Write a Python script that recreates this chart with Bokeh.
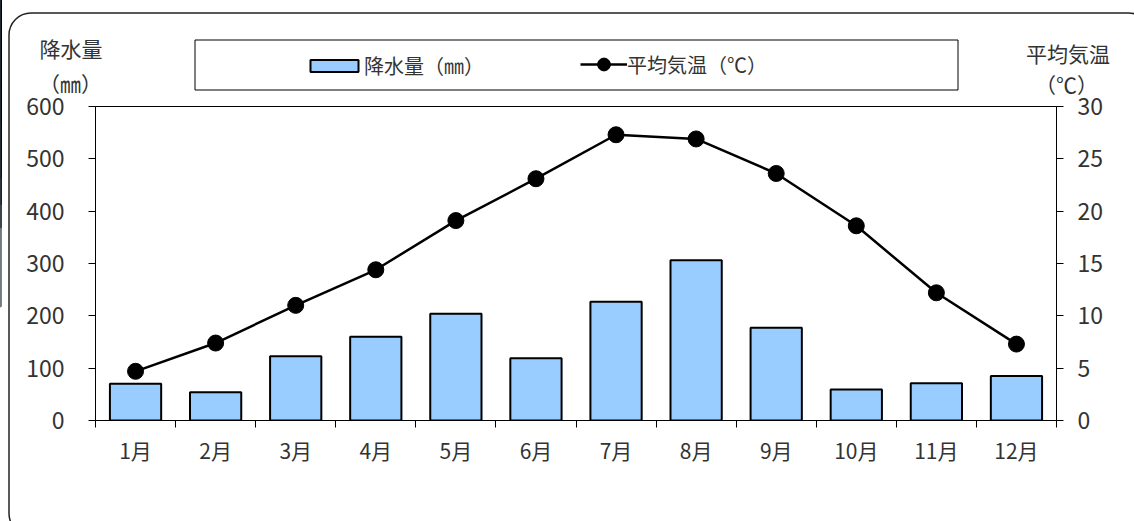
from bokeh.plotting import figure
from bokeh.layouts import column
from bokeh.models import (Range1d, LinearAxis, FixedTicker, Legend, LegendItem,
                          Label, BoxAnnotation, ColumnDataSource)
from bokeh.embed import file_html
from bokeh.resources import INLINE

# Monthly climate normals
months = list(range(1, 13))
month_labels = [f"{m}月" for m in months]
precip_mm = [70, 54, 123, 160, 204, 119, 227, 306, 177, 59, 71, 85]
temp_c = [4.7, 7.4, 11.0, 14.4, 19.1, 23.1, 27.3, 26.9, 23.6, 18.6, 12.2, 7.3]
precip_ticks = [0, 100, 200, 300, 400, 500, 600]
temp_ticks = [0, 5, 10, 15, 20, 25, 30]

FONT = "Noto Sans CJK JP"
NUM_FONT = "Liberation Sans Narrow, Noto Sans CJK JP"
TXT = "#333333"
BAR_FILL = "#99CCFF"
PAGE_W, PAGE_H = 1134, 521

src = ColumnDataSource(dict(month=months, precip=precip_mm, temp=temp_c))

# ---------------- chart ----------------
p = figure(width=PAGE_W, height=PAGE_H, output_backend="svg",
           toolbar_location=None, frame_align=False,
           x_range=Range1d(0.5, 12.5), y_range=Range1d(0, 600),
           min_border_left=95, min_border_right=PAGE_W - 1056,
           min_border_top=106, min_border_bottom=PAGE_H - 420,
           margin=(0, 0, -PAGE_H, 0))
p.extra_y_ranges = {"temp": Range1d(0, 30)}
p.xgrid.visible = False
p.ygrid.visible = False
p.outline_line_color = "black"
p.outline_line_width = 1
p.background_fill_color = "white"
p.border_fill_color = "white"

# month axis: labels under bars, tick marks between months
xa = p.xaxis[0]
xa.ticker = FixedTicker(ticks=months, minor_ticks=[m - 0.5 for m in months] + [12.5])
xa.major_label_overrides = {m: lab for m, lab in zip(months, month_labels)}
xa.major_tick_line_color = None
xa.major_tick_out = 0
xa.major_tick_in = 0
xa.minor_tick_out = 7
xa.minor_tick_in = 0
xa.minor_tick_line_color = "black"
xa.axis_line_color = "black"
xa.major_label_standoff = 7
xa.major_label_text_font = NUM_FONT
xa.major_label_text_font_size = "21px"
xa.major_label_text_color = TXT

ya = p.yaxis[0]
ya.ticker = FixedTicker(ticks=precip_ticks)
ya.minor_tick_line_color = None
ya.major_tick_out = 7
ya.major_tick_in = 0
ya.major_tick_line_color = "black"
ya.axis_line_color = "black"
ya.major_label_standoff = 24
ya.major_label_text_font = NUM_FONT
ya.major_label_text_font_size = "23px"
ya.major_label_text_color = TXT

ra = LinearAxis(y_range_name="temp", ticker=FixedTicker(ticks=temp_ticks))
ra.minor_tick_line_color = None
ra.major_tick_out = 7
ra.major_tick_in = 0
ra.major_tick_line_color = "black"
ra.axis_line_color = "black"
ra.major_label_standoff = 14
ra.major_label_text_font = NUM_FONT
ra.major_label_text_font_size = "23px"
ra.major_label_text_color = TXT
p.add_layout(ra, "right")

p.vbar(x="month", top="precip", bottom=0, width=0.64, source=src,
       fill_color=BAR_FILL, line_color="black", line_width=2)
p.line(x="month", y="temp", y_range_name="temp", source=src,
       line_color="black", line_width=2.5)
p.scatter(x="month", y="temp", y_range_name="temp", source=src,
          size=16, fill_color="black", line_color="black")

# ---------------- transparent overlay: frame, axis titles, legend ----------------
# its data coordinates are page pixels (y grows downward)
deco = figure(width=PAGE_W, height=PAGE_H, output_backend="svg",
              toolbar_location=None, x_axis_type=None, y_axis_type=None,
              x_range=Range1d(0, PAGE_W), y_range=Range1d(PAGE_H, 0),
              min_border=0, outline_line_color=None, frame_align=False)
deco.grid.visible = False
deco.background_fill_alpha = 0
deco.border_fill_alpha = 0
# a range on which the month values fall far outside the overlay's view
deco.extra_x_ranges = {"swatch": Range1d(100, 200)}

# rounded outer frame (runs past the right and bottom edges)
deco.add_layout(BoxAnnotation(left=8.5, right=1150, top=12.5, bottom=535,
                              border_radius=22, fill_color=None,
                              line_color="#222222", line_alpha=1, line_width=1.5))

# legend frame
deco.add_layout(BoxAnnotation(left=194.5, right=957.5, top=39.5, bottom=89.5,
                              fill_color=None, line_color="black", line_alpha=1,
                              line_width=1))

# legend swatches: same styles as the chart, drawn off-canvas
proxy_bar = deco.vbar(x="month", top="precip", width=0.64, source=src,
                      x_range_name="swatch",
                      fill_color=BAR_FILL, line_color="black", line_width=2)
proxy_line = deco.line(x="month", y="temp", source=src, x_range_name="swatch",
                       line_color="black", line_width=2.5)
proxy_dot = deco.scatter(x="month", y="temp", source=src, x_range_name="swatch",
                         size=13, fill_color="black", line_color="black")

common = dict(orientation="horizontal", padding=0, margin=0, spacing=0,
              label_standoff=0, border_line_alpha=0, background_fill_alpha=0,
              label_text_font=FONT, label_text_font_size="20px",
              label_text_color=TXT)
leg_a = Legend(items=[LegendItem(label="降水量（㎜）", renderers=[proxy_bar])],
               location=(304, PAGE_H - 80),
               glyph_width=60, glyph_height=15, **common)
leg_b = Legend(items=[LegendItem(label="平均気温（℃）", renderers=[proxy_line, proxy_dot])],
               location=(580, PAGE_H - 80),
               glyph_width=47, glyph_height=32, **common)
deco.add_layout(leg_a)
deco.add_layout(leg_b)

for txt, x, y in [("降水量", 70.5, 47), ("（㎜）", 70, 82),
                  ("平均気温", 1067.5, 52), ("（℃）", 1066, 83)]:
    deco.add_layout(Label(x=x, y=y, text=txt, text_align="center",
                          text_baseline="middle", text_font=FONT,
                          text_font_size="21px", text_color=TXT))

page = column(p, deco, spacing=0)

open("out.html", "w").write(file_html(page, INLINE))
